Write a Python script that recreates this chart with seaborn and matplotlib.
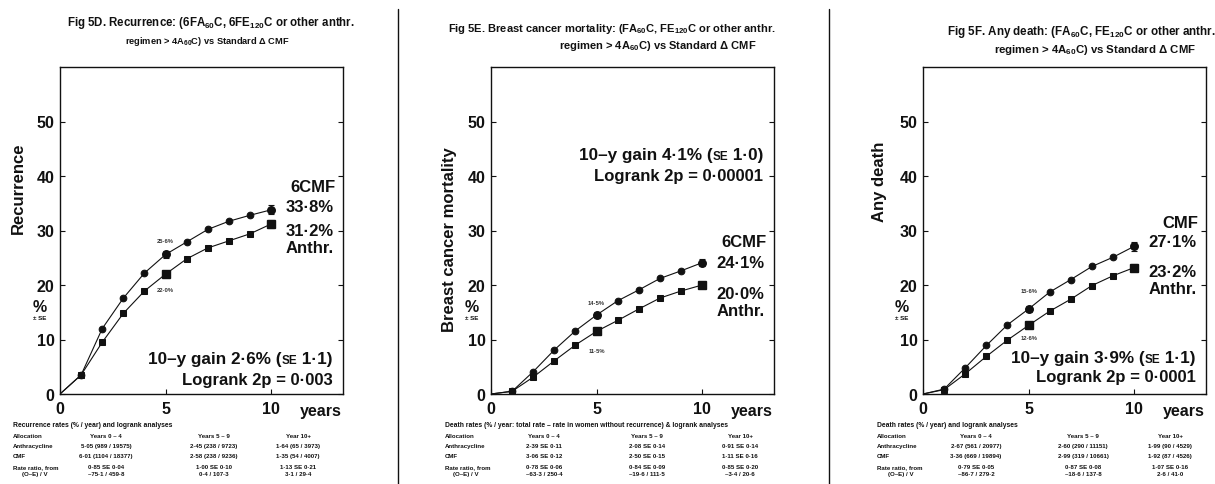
import numpy as np
import pandas as pd
import matplotlib
matplotlib.use("Agg")
import matplotlib.pyplot as plt
from matplotlib.lines import Line2D
import seaborn as sns

# ---------------- data ----------------
years = [0, 1, 2, 3, 4, 5, 6, 7, 8, 9, 10]

recur_cmf = [0, 3.5, 12.0, 17.6, 22.2, 25.6, 27.9, 30.2, 31.7, 32.8, 33.8]
recur_anthr = [0, 3.5, 9.5, 14.8, 18.9, 22.0, 24.8, 26.8, 28.1, 29.4, 31.2]
recur_se_cmf = [0.7, 0.8]
recur_se_anthr = [0.6, 0.7]

bcm_cmf = [0, 0.5, 4.1, 8.1, 11.6, 14.5, 17.1, 19.1, 21.2, 22.6, 24.1]
bcm_anthr = [0, 0.5, 3.1, 6.1, 9.0, 11.5, 13.5, 15.6, 17.6, 18.9, 20.0]
bcm_se_cmf = [0.5, 0.7]
bcm_se_anthr = [0.5, 0.6]

death_cmf = [0, 0.9, 4.8, 8.9, 12.7, 15.6, 18.7, 21.0, 23.4, 25.1, 27.1]
death_anthr = [0, 0.8, 3.7, 6.9, 9.9, 12.6, 15.2, 17.4, 19.9, 21.7, 23.2]
death_se_cmf = [0.6, 0.8]
death_se_anthr = [0.5, 0.7]

se_years = [5, 10]

titles = [
    ("Fig 5D. Recurrence: (6FA$\\mathregular{_{60}}$C, 6FE$\\mathregular{_{120}}$C or other anthr.",
     "regimen > 4A$\\mathregular{_{60}}$C) vs Standard \u0394 CMF"),
    ("Fig 5E. Breast cancer mortality: (FA$\\mathregular{_{60}}$C, FE$\\mathregular{_{120}}$C or other anthr.",
     "regimen > 4A$\\mathregular{_{60}}$C) vs Standard \u0394 CMF"),
    ("Fig 5F. Any death: (FA$\\mathregular{_{60}}$C, FE$\\mathregular{_{120}}$C or other anthr.",
     "regimen > 4A$\\mathregular{_{60}}$C) vs Standard \u0394 CMF"),
]
ylabels = ["Recurrence", "Breast cancer mortality", "Any death"]
cmf_names = ["6CMF", "6CMF", "CMF"]
gain_values = ["2\u00b76", "4\u00b71", "3\u00b79"]
gain_se = ["1\u00b71", "1\u00b70", "1\u00b71"]
logrank_texts = ["Logrank 2p = 0\u00b7003",
                 "Logrank 2p = 0\u00b700001",
                 "Logrank 2p = 0\u00b70001"]

table_titles = [
    "Recurrence rates (% / year) and logrank analyses",
    "Death rates (% / year: total rate \u2013 rate in women without recurrence) & logrank analyses",
    "Death rates (% / year) and logrank analyses",
]
table_header = ["Allocation", "Years 0 \u2013 4", "Years 5 \u2013 9", "Year 10+"]
row_names = ["Anthracycline", "CMF", "Rate ratio, from", "(O\u2013E) / V"]
table_rows = [
    [["5\u00b705 (989 / 19575)", "2\u00b745 (238 / 9723)", "1\u00b764 (65 / 3973)"],
     ["6\u00b701 (1104 / 18377)", "2\u00b758 (238 / 9236)", "1\u00b735 (54 / 4007)"],
     ["0\u00b785 SE 0\u00b704", "1\u00b700 SE 0\u00b710", "1\u00b713 SE 0\u00b721"],
     ["\u201375\u00b71 / 459\u00b78", "0\u00b74 / 107\u00b73", "3\u00b71 / 29\u00b74"]],
    [["2\u00b739 SE 0\u00b711", "2\u00b708 SE 0\u00b714", "0\u00b791 SE 0\u00b714"],
     ["3\u00b706 SE 0\u00b712", "2\u00b750 SE 0\u00b715", "1\u00b711 SE 0\u00b716"],
     ["0\u00b778 SE 0\u00b706", "0\u00b784 SE 0\u00b709", "0\u00b785 SE 0\u00b720"],
     ["\u201363\u00b73 / 250\u00b74", "\u201319\u00b76 / 111\u00b75", "\u20133\u00b74 / 20\u00b76"]],
    [["2\u00b767 (561 / 20977)", "2\u00b760 (290 / 11151)", "1\u00b799 (90 / 4529)"],
     ["3\u00b736 (669 / 19894)", "2\u00b799 (319 / 10661)", "1\u00b792 (87 / 4526)"],
     ["0\u00b779 SE 0\u00b705", "0\u00b787 SE 0\u00b708", "1\u00b707 SE 0\u00b716"],
     ["\u201386\u00b77 / 279\u00b72", "\u201318\u00b76 / 137\u00b78", "2\u00b76 / 41\u00b70"]],
]

panels = [
    (recur_cmf, recur_anthr, recur_se_cmf, recur_se_anthr),
    (bcm_cmf, bcm_anthr, bcm_se_cmf, bcm_se_anthr),
    (death_cmf, death_anthr, death_se_cmf, death_se_anthr),
]

# ---------------- style ----------------
sns.set_theme(style="ticks")
plt.rcParams["font.family"] = ["Liberation Sans", "DejaVu Sans"]
plt.rcParams["font.weight"] = "bold"
plt.rcParams["mathtext.default"] = "regular"

W, H = 1215, 485
fig = plt.figure(figsize=(W / 100, H / 100), dpi=100)
renderer = fig.canvas.get_renderer()


def fx(px):
    return px / W


def fy(py):
    return 1 - py / H


def right_aligned_parts(ax, x, y, parts, **kw):
    """Draw (text, size) pieces so that the last one ends at data x."""
    shift = 0.0
    for txt, size in reversed(parts):
        t = ax.annotate(txt, (x, y), xycoords="data", xytext=(-shift, 0),
                        textcoords="offset pixels", ha="right", va="baseline",
                        fontsize=size, **kw)
        shift += t.get_window_extent(renderer).width


# axes frames in pixel units: left, right, top, bottom
frames = [(60, 343, 68, 395), (491, 774, 68, 395), (923, 1206, 68, 395)]
ylabel_pos = [(-0.148, 0.633), (-0.145, 0.474), (-0.152, 0.651)]
pct_x = [-0.071, -0.067, -0.075]

# label placements (data coords): cmf name, cmf %, anthr %, Anthr., gain, logrank
label_y = [
    (38.1, 34.4, 30.0, 26.9, 7.2, 2.75),
    (28.0, 24.2, 18.5, 15.3, 44.7, 40.0),
    (31.5, 28.0, 22.5, 19.3, 7.3, 3.2),
]
small_y = [(28.2, 19.2), (16.7, 8.0), (19.0, 10.3)]

title_pos = [((211, 23), (207, 42)), ((612, 29), (658, 46)), ((1081, 32), (1095, 50))]
title_size = [(8.3, 6.7), (8.0, 8.0), (8.4, 8.2)]

table_left = [13, 445, 877]
table_sub = [22, 453, 888]
table_cols = [(106, 214, 298), (544, 647, 740), (976, 1083, 1170)]
table_ys = [426, 437, 447, 457, 468, 475]

ink = "#111111"

for i, (cmf, anthr, se_c, se_a) in enumerate(panels):
    l, r, t, b = frames[i]
    ax = fig.add_axes([fx(l), fy(b), fx(r - l), (b - t) / H])

    df = pd.DataFrame({"year": years, "CMF": cmf, "Anthr": anthr})
    sns.lineplot(data=df, x="year", y="CMF", ax=ax, color=ink, lw=0.8,
                 marker="o", markersize=4.8, markevery=slice(1, None),
                 markeredgecolor=ink, markerfacecolor=ink)
    sns.lineplot(data=df, x="year", y="Anthr", ax=ax, color=ink, lw=0.8,
                 marker="s", markersize=5.0, markevery=slice(1, None),
                 markeredgecolor=ink, markerfacecolor=ink)
    cm_at = [cmf[years.index(y)] for y in se_years]
    an_at = [anthr[years.index(y)] for y in se_years]
    ax.errorbar(se_years, cm_at, yerr=se_c, fmt="o", color=ink, ms=5.4,
                capsize=2, elinewidth=0.8, capthick=0.8)
    ax.errorbar(se_years, an_at, yerr=se_a, fmt="s", color=ink, ms=5.8,
                capsize=2, elinewidth=0.8, capthick=0.8)

    ax.set_xlim(0, 13.4)
    ax.set_ylim(0, 60)
    ax.set_xticks([0, 5, 10])
    ax.set_yticks([0, 10, 20, 30, 40, 50])
    ax.set_xticklabels(["0", "5", "10"])
    ax.set_yticklabels(["0", "10", "20", "30", "40", "50"])
    ax.tick_params(axis="both", direction="in", length=3.5, width=0.8,
                   labelsize=11.5, colors=ink, right=True)
    ax.tick_params(axis="y", pad=4)
    ax.tick_params(axis="x", pad=5)
    for lab in ax.get_xticklabels() + ax.get_yticklabels():
        lab.set_fontweight("bold")
    for s in ax.spines.values():
        s.set_linewidth(1.0)
        s.set_color(ink)

    ax.set_xlabel("")
    ax.set_ylabel(ylabels[i], fontsize=12, fontweight="bold", color=ink)
    ax.yaxis.label.set_verticalalignment("center")
    ax.yaxis.set_label_coords(*ylabel_pos[i])

    ax.text(0.996, -0.049, "years", transform=ax.transAxes, ha="right",
            va="center", fontsize=11.5, fontweight="bold", color=ink)
    ax.text(pct_x[i], 0.269, "%", transform=ax.transAxes, ha="center",
            va="center", fontsize=11.5, fontweight="bold", color=ink)
    ax.text(pct_x[i], 0.235, "\u00b1 SE", transform=ax.transAxes, ha="center",
            va="center", fontsize=4.5, fontweight="bold", color=ink)

    ly = label_y[i]
    kw = dict(ha="right", va="center", fontsize=12, fontweight="bold", color=ink)
    ax.text(13.05, ly[0], cmf_names[i], **kw)
    ax.text(12.95, ly[1], f"{cmf[-1]:.1f}%".replace(".", "\u00b7"), **kw)
    ax.text(12.95, ly[2], f"{anthr[-1]:.1f}%".replace(".", "\u00b7"), **kw)
    ax.text(12.95, ly[3], "Anthr.", **kw)
    # gain line with small-capital "SE"; baseline sits ~0.35 em below centre
    right_aligned_parts(ax, 12.9, ly[4] - 1.5,
                        [(f"10\u2013y gain {gain_values[i]}% (", 12.3),
                         ("SE", 8.5), (f" {gain_se[i]})", 12.3)],
                        fontweight="bold", color=ink)
    ax.text(12.9, ly[5], logrank_texts[i], **kw)

    skw = dict(ha="center", va="center", fontsize=4.2, fontweight="bold",
               color="#333333")
    ax.text(5.0, small_y[i][0], f"{cmf[5]:.1f}%".replace(".", "\u00b7"), **skw)
    ax.text(5.0, small_y[i][1], f"{anthr[5]:.1f}%".replace(".", "\u00b7"), **skw)

    # titles
    (x1, y1), (x2, y2) = title_pos[i]
    fig.text(fx(x1), fy(y1), titles[i][0], ha="center", va="center",
             fontsize=title_size[i][0], fontweight="bold", color=ink)
    fig.text(fx(x2), fy(y2), titles[i][1], ha="center", va="center",
             fontsize=title_size[i][1], fontweight="bold", color=ink)

    # rates table
    tkw = dict(fontsize=4.4, fontweight="bold", color=ink, va="center")
    fig.text(fx(table_left[i]), fy(table_ys[0]), table_titles[i], ha="left",
             **dict(tkw, fontsize=4.9))
    fig.text(fx(table_left[i]), fy(table_ys[1]), table_header[0], ha="left", **tkw)
    for c in range(3):
        fig.text(fx(table_cols[i][c]), fy(table_ys[1]), table_header[c + 1],
                 ha="center", **tkw)
    for rr in range(4):
        xl = table_sub[i] if rr == 3 else table_left[i]
        fig.text(fx(xl), fy(table_ys[rr + 2]), row_names[rr], ha="left", **tkw)
        for c in range(3):
            fig.text(fx(table_cols[i][c]), fy(table_ys[rr + 2]),
                     table_rows[i][rr][c], ha="center", **tkw)

# panel separators
for xs in (398, 829):
    fig.add_artist(Line2D([fx(xs), fx(xs)], [fy(10), fy(485)], color=ink, lw=1.0))

fig.savefig("out.png", dpi=100, facecolor="white")
